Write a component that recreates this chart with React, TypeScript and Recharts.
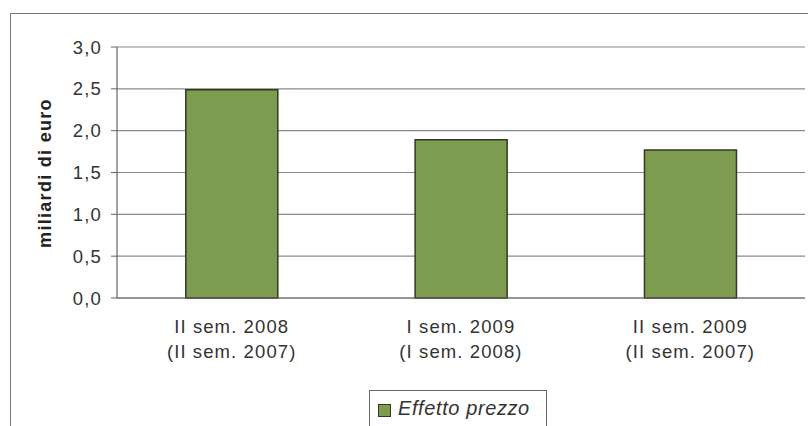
import {
  BarChart,
  Bar,
  XAxis,
  YAxis,
  CartesianGrid,
  Legend,
  Label,
} from "recharts";

const periods = ["II sem. 2008", "I sem. 2009", "II sem. 2009"];
const comparedWith = ["(II sem. 2007)", "(I sem. 2008)", "(II sem. 2007)"];
const effettoPrezzo = [2.49, 1.89, 1.77];
const yTicks = [0, 0.5, 1, 1.5, 2, 2.5, 3];

const data = periods.map((p, i) => ({
  period: p,
  compared: comparedWith[i],
  value: effettoPrezzo[i],
}));

const FONT = "Arial, 'Liberation Sans', Helvetica, sans-serif";
const BAR_FILL = "#7e9c50";
const BAR_STROKE = "#2e3a22";

function fmt(v: number): string {
  return v.toFixed(1).replace(".", ",");
}

// two-line category label
function CategoryTick(props: any) {
  const { x, y, payload } = props;
  const i = payload.index;
  return (
    <g>
      <text
        x={x}
        y={y}
        textAnchor="middle"
        fontFamily={FONT}
        fontSize={18.5}
        letterSpacing={1.1}
        fill="#333"
      >
        <tspan x={x} dy={27}>{periods[i]}</tspan>
        <tspan x={x} dy={25}>{comparedWith[i]}</tspan>
      </text>
    </g>
  );
}

function LegendBox() {
  return (
    <div
      style={{
        display: "flex",
        alignItems: "center",
        gap: 7,
        width: 178,
        boxSizing: "border-box",
        border: "1px solid #666",
        background: "#fff",
        padding: "6px 8px 12px 8px",
        fontFamily: FONT,
        fontSize: 20,
        fontStyle: "italic",
        letterSpacing: 0.6,
        color: "#333",
      }}
    >
      <span
        style={{
          display: "inline-block",
          width: 11,
          height: 11,
          background: BAR_FILL,
          border: `1px solid ${BAR_STROKE}`,
          marginTop: 3,
        }}
      />
      Effetto prezzo
    </div>
  );
}

export default function App() {
  return (
    <div
      style={{
        position: "absolute",
        left: 0,
        top: 0,
        width: 808,
        height: 426,
        overflow: "hidden",
        background: "#fff",
      }}
    >
      {/* outer frame of the figure */}
      <div
        style={{
          position: "absolute",
          left: 10,
          top: 13,
          width: 820,
          height: 440,
          border: "1px solid #777",
        }}
      />
      <div style={{ position: "absolute", left: 0, top: 0 }}>
        <BarChart
          width={808}
          height={426}
          data={data}
          margin={{ top: 47, right: 3, left: 0, bottom: 68 }}
          barCategoryGap="30%"
        >
          <CartesianGrid vertical={false} stroke="#8a8a8a" strokeWidth={1.2} />
          <XAxis
            dataKey="period"
            height={60}
            interval={0}
            tick={<CategoryTick />}
            tickLine={false}
            axisLine={{ stroke: "#666", strokeWidth: 1.2 }}
          />
          <YAxis
            width={117}
            domain={[0, 3]}
            ticks={yTicks}
            interval={0}
            tickFormatter={fmt}
            tickSize={6}
            tickMargin={9}
            tick={{ fontSize: 18.5, fill: "#333", fontFamily: FONT, letterSpacing: 1.2 }}
            tickLine={{ stroke: "#666" }}
            axisLine={{ stroke: "#666", strokeWidth: 1.2 }}
          >
            <Label
              content={() => (
                <text
                  x={51}
                  y={173}
                  transform="rotate(-90 51 173)"
                  textAnchor="middle"
                  fontFamily={FONT}
                  fontSize={18}
                  fontWeight="bold"
                  letterSpacing={1.3}
                  fill="#222"
                >
                  miliardi di euro
                </text>
              )}
            />
          </YAxis>
          <YAxis
            yAxisId="r"
            orientation="right"
            width={0}
            domain={[0, 3]}
            tick={false}
            tickLine={false}
            axisLine={{ stroke: "#666", strokeWidth: 1.2 }}
          />
          <Legend
            layout="horizontal"
            verticalAlign="middle"
            align="center"
            wrapperStyle={{ top: 390, left: 369, width: "auto" }}
            content={() => <LegendBox />}
          />
          <Bar
            dataKey="value"
            name="Effetto prezzo"
            fill={BAR_FILL}
            stroke={BAR_STROKE}
            strokeWidth={1.5}
            isAnimationActive={false}
          />
        </BarChart>
      </div>
    </div>
  );
}
